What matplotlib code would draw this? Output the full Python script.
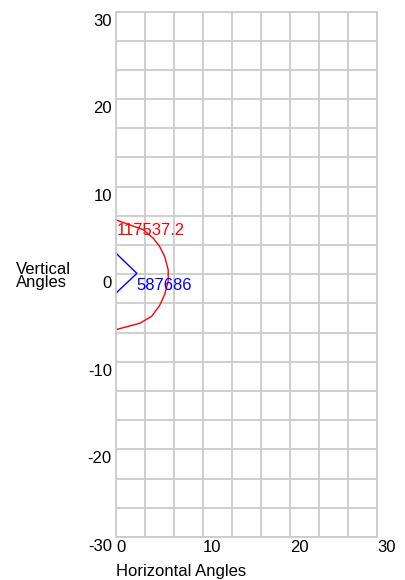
import numpy as np
import matplotlib
matplotlib.use("Agg")
import matplotlib.pyplot as plt
from matplotlib.transforms import ScaledTranslation

plt.rcParams['font.family'] = ['Liberation Sans', 'DejaVu Sans']
plt.rcParams['axes.unicode_minus'] = False

# Data
red_x = [0.0, 0.84, 3.1, 4.3, 5.0, 5.6, 6.0, 6.0, 5.6, 5.0, 4.1, 2.75, 1.2, 0.1]
red_y = [6.2, 5.9, 5.1, 4.1, 3.2, 2.0, 0.5, -0.8, -2.3, -3.6, -4.8, -5.6, -6.0, -6.3]
red_label = "117537.2"
blue_x = [0.0, 2.4, 0.0]
blue_y = [2.4, 0.1, -2.15]
blue_label = "587686"
x_ticks = [0, 10, 20, 30]
y_ticks = [30, 20, 10, 0, -10, -20, -30]

W, H = 406, 580
fig = plt.figure(figsize=(W / 100, H / 100), dpi=100)
fig.patch.set_facecolor('white')
ax = fig.add_axes([116 / W, 1 - 537 / H, (377 - 116) / W, (537 - 11.5) / H])

grid_c = '#cccccc'
ax.set_xlim(0, 30)
ax.set_ylim(-30, 30)
ax.set_xticks(x_ticks)
ax.set_yticks(y_ticks)
ax.set_xticks(np.arange(0, 30.01, 10 / 3), minor=True)
ax.set_yticks(np.arange(-30, 30.01, 10 / 3), minor=True)
ax.grid(True, which='both', color=grid_c, linewidth=1.3)
ax.set_axisbelow(True)
for s in ax.spines.values():
    s.set_color(grid_c)
    s.set_linewidth(1.3)
ax.tick_params(which='both', length=0)
ax.tick_params(axis='x', pad=2, labelsize=12, colors='black')
ax.tick_params(axis='y', pad=3, labelsize=12, colors='black')
down = ScaledTranslation(0, -2 / 100, fig.dpi_scale_trans)
for lab in ax.get_xticklabels():
    lab.set_ha('left')
for lab in ax.get_yticklabels():
    lab.set_va('top')
    lab.set_transform(lab.get_transform() + down)

ax.plot(red_x, red_y, color='#ff0000', linewidth=1.0, clip_on=False)
ax.plot(blue_x, blue_y, color='#0000ff', linewidth=1.0, clip_on=False)
ax.annotate(red_label, (red_x[0], red_y[0]), xytext=(1, -3),
            textcoords='offset pixels', color='#ff0000', fontsize=12,
            ha='left', va='top')
ax.annotate(blue_label, (blue_x[1], blue_y[1]), xytext=(0, -5),
            textcoords='offset pixels', color='#0000ff', fontsize=12,
            ha='left', va='top')

fig.text(116 / W, 1 - 564 / H, "Horizontal Angles", fontsize=12,
         ha='left', va='top')
fig.text(16 / W, 1 - 262 / H, "Vertical\nAngles", fontsize=12,
         ha='left', va='top', linespacing=0.85)

fig.savefig('out.png', dpi=100)
